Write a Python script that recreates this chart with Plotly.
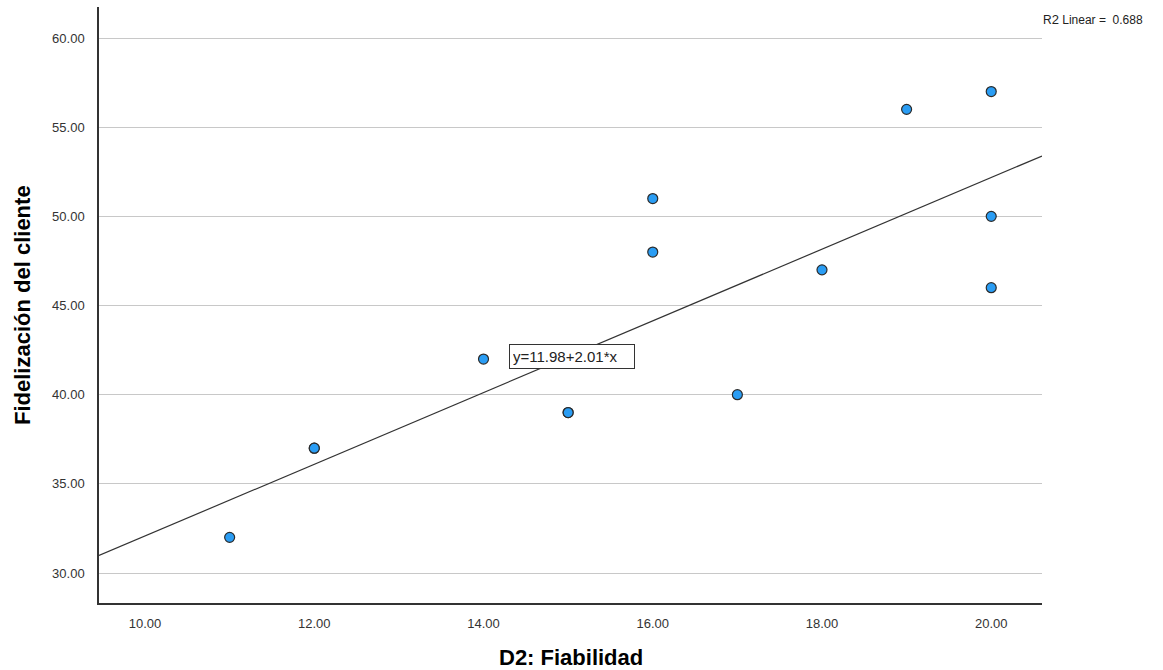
import plotly.graph_objects as go

# Data
x_vals = [11, 12, 12, 14, 15, 15, 16, 16, 17, 18, 19, 20, 20, 20]
y_vals = [32, 37, 37, 42, 39, 39, 51, 48, 40, 47, 56, 57, 50, 46]
intercept = 11.98
slope = 2.01
r2 = 0.688
x_range = [9.456, 20.60]
y_range = [28.32, 61.74]
x_ticks = [10, 12, 14, 16, 18, 20]
y_ticks = [30, 35, 40, 45, 50, 55, 60]

fig = go.Figure()

line_x = x_range
line_y = [intercept + slope * v for v in line_x]
fig.add_trace(go.Scatter(x=line_x, y=line_y, mode="lines",
                         line=dict(color="#333333", width=1.2),
                         hoverinfo="skip", showlegend=False))

fig.add_trace(go.Scatter(x=x_vals, y=y_vals, mode="markers",
                         marker=dict(size=10, color="#2a9df4",
                                     line=dict(color="#2b2b2b", width=1.2)),
                         showlegend=False))

fig.add_annotation(x=15.04, y=42.14, xref="x", yref="y",
                   text=f"y={intercept:.2f}+{slope:.2f}*x", showarrow=False,
                   width=118, align="left",
                   font=dict(family="Liberation Sans, Arial", size=15, color="#222222"),
                   bgcolor="white", bordercolor="#333333", borderwidth=1, borderpad=3)

fig.add_annotation(x=1.0, y=1.0, xref="paper", yref="paper",
                   xanchor="left", yanchor="top", xshift=-1, yshift=-3,
                   text=f"R<span style='font-size:13px'>2</span> Linear =  {r2:.3f}",
                   showarrow=False,
                   font=dict(family="Liberation Sans, Arial", size=12, color="#222222"))

fig.add_annotation(x=0.5, y=0, xref="paper", yref="paper",
                   xanchor="center", yanchor="middle", yshift=-54,
                   text="<b>D2: Fiabilidad</b>", showarrow=False,
                   font=dict(family="Liberation Sans, Arial", size=22, color="#000000"))

fig.add_annotation(x=0, y=0.5, xref="paper", yref="paper",
                   xanchor="center", yanchor="middle", xshift=-77, textangle=-90,
                   text="<b>Fidelización del cliente</b>", showarrow=False,
                   font=dict(family="Liberation Sans, Arial", size=22, color="#000000"))

fig.update_layout(
    width=1163, height=670,
    margin=dict(l=99, r=121, t=7, b=67),
    paper_bgcolor="white", plot_bgcolor="white",
    font=dict(family="Liberation Sans, Arial", size=13, color="#333333"),
    xaxis=dict(range=x_range, tickvals=x_ticks,
               ticktext=[f"{v:.2f}" for v in x_ticks],
               showgrid=False, zeroline=False, showline=True,
               linecolor="#333333", linewidth=1.5, ticks="", ticklabelstandoff=8,
               tickfont=dict(size=13, color="#333333")),
    yaxis=dict(range=y_range, tickvals=y_ticks,
               ticktext=[f"{v:.2f}" for v in y_ticks],
               showgrid=True, gridcolor="#c8c8c8", gridwidth=1,
               zeroline=False, showline=True,
               linecolor="#333333", linewidth=1.5, ticks="", ticklabelstandoff=10,
               tickfont=dict(size=13, color="#333333")),
)

fig.write_html("out.html", config={"displayModeBar": False},
               post_script="document.body.style.margin='0';")
